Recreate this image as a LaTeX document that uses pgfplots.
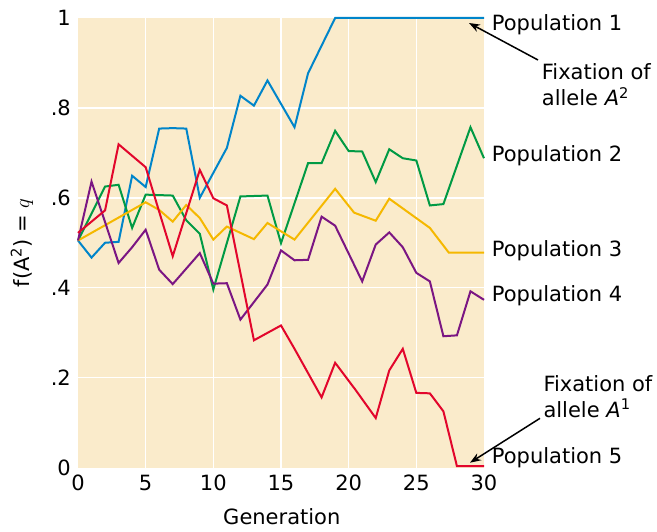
\documentclass[border=0pt]{standalone}
\usepackage{fontspec}
\setmainfont{DejaVu Sans}
\usepackage{pgfplots}
\pgfplotsset{compat=1.18}
\usetikzlibrary{arrows.meta}
\definecolor{bgc}{RGB}{250,235,203}
\definecolor{cblue}{RGB}{0,133,202}
\definecolor{cgreen}{RGB}{0,154,68}
\definecolor{cyellow}{RGB}{245,184,0}
\definecolor{cpurple}{RGB}{123,22,131}
\definecolor{cred}{RGB}{226,6,44}
\begin{document}
\fontsize{21}{26}\selectfont
\begin{tikzpicture}[x=1pt,y=1pt,font=\fontsize{21}{26}\selectfont]
\path[use as bounding box] (0,0) rectangle (657,531);
\begin{axis}[
  at={(78pt,63.5pt)}, anchor=south west,
  scale only axis, width=406pt, height=449.5pt,
  xmin=0, xmax=30, ymin=0, ymax=1,
  clip=false,
  axis background/.style={fill=bgc},
  axis line style={draw=none},
  major tick length=0pt, minor tick length=0pt,
  xtick={0,5,...,30},
  ytick={0,0.2,0.4,0.6,0.8,1},
  yticklabels={0,.2,.4,.6,.8,1},
  minor xtick={5,10,...,25},
  minor ytick={0.2,0.4,0.6,0.8},
  xminorgrids=true, yminorgrids=true,
  minor grid style={white, line width=1.5pt},
  /pgf/number format/assume math mode=true,
  every axis y label/.style={at={(axis description cs:-0.138,0.5)},rotate=90,anchor=center},
  every axis x label/.style={at={(axis description cs:0.502,-0.109)},anchor=center},
  xlabel={Generation},
  ylabel={f(A\textsuperscript{2}) = $q$},
  every axis plot/.append style={line width=2pt, no markers, line join=miter},
]
% Population 1
\addplot[cblue] coordinates {(0,0.505)(1,0.467)(2,0.50)(3,0.502)(4,0.649)(5,0.624)(6,0.754)(7,0.755)(8,0.754)(9,0.60)(11,0.711)(12,0.827)(13,0.805)(14,0.861)(16,0.757)(17,0.877)(19,1)(30,1)};
% Population 2
\addplot[cgreen] coordinates {(0,0.505)(2,0.625)(3,0.629)(4,0.533)(5,0.607)(7,0.605)(8,0.55)(9,0.52)(10,0.396)(12,0.603)(14,0.605)(15,0.499)(17,0.677)(18,0.677)(19,0.749)(20,0.704)(21,0.703)(22,0.635)(23,0.708)(24,0.688)(25,0.683)(26,0.583)(27,0.586)(29,0.757)(30,0.688)};
% Population 3
\addplot[cyellow] coordinates {(0,0.505)(5,0.59)(6,0.573)(7,0.547)(8,0.584)(9,0.555)(10,0.507)(11,0.536)(13,0.508)(14,0.544)(16,0.507)(19,0.62)(20.4,0.567)(22,0.549)(23,0.598)(26,0.533)(27.4,0.478)(30,0.478)};
% Population 4
\addplot[cpurple] coordinates {(0,0.505)(1,0.636)(2,0.546)(3,0.455)(4,0.49)(5,0.529)(6,0.44)(7,0.408)(9,0.477)(10,0.409)(11,0.41)(12,0.329)(13,0.368)(14,0.407)(15,0.483)(16,0.461)(17,0.462)(18,0.558)(19,0.538)(21,0.414)(22,0.496)(23,0.523)(24,0.49)(25,0.433)(26,0.414)(27,0.292)(28,0.294)(29,0.392)(30,0.373)};
% Population 5
\addplot[cred] coordinates {(0,0.522)(2,0.572)(3,0.719)(5,0.668)(7,0.47)(9,0.662)(10,0.599)(11,0.583)(13,0.283)(15,0.316)(16,0.264)(18,0.156)(19,0.233)(20.5,0.173)(22,0.11)(23,0.216)(24,0.264)(25,0.166)(26,0.165)(27,0.125)(28,0.003)(30,0.003)};
\end{axis}
% labels (px from top -> y = 531 - px)
\node[anchor=base west, inner sep=0pt] at (491.7,500.3) {Population 1};
\node[anchor=base west, inner sep=0pt] at (491.7,369.3) {Population 2};
\node[anchor=base west, inner sep=0pt] at (491.7,274.3) {Population 3};
\node[anchor=base west, inner sep=0pt] at (491.7,229.3) {Population 4};
\node[anchor=base west, inner sep=0pt] at (491.7,67.7) {Population 5};
\node[anchor=base west, inner sep=0pt] at (541.7,451) {Fixation of};
\node[anchor=base west, inner sep=0pt] at (541.7,425) {allele \textit{A}\textsuperscript{2}};
\node[anchor=base west, inner sep=0pt] at (543.3,139.3) {Fixation of};
\node[anchor=base west, inner sep=0pt] at (543.3,113.7) {allele \textit{A}\textsuperscript{1}};
\draw[line width=1.5pt, -{Stealth[length=11pt,width=8pt]}] (538,471) -- (469,508);
\draw[line width=1.5pt, -{Stealth[length=11pt,width=8pt]}] (540,112.7) -- (470,68.3);
\end{tikzpicture}
\end{document}
